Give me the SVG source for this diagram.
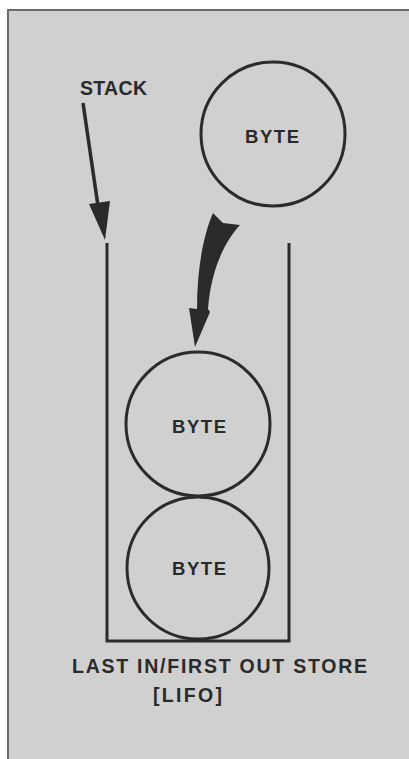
<svg xmlns="http://www.w3.org/2000/svg" width="409" height="759" viewBox="0 0 409 759">
  <style>
    .ink { stroke: #2b2b2b; fill: none; stroke-width: 3; }
    .solid { fill: #2b2b2b; stroke: none; }
    .lbl { font-family: "Liberation Sans", Arial, sans-serif; font-weight: bold; fill: #2a2a2a; }
  </style>
  <rect x="0" y="0" width="409" height="759" fill="#ffffff"/>
  <rect x="8" y="10" width="401" height="749" fill="#d0d0d0"/>
  <path d="M8,759 V10 H409" fill="none" stroke="#6a6a6a" stroke-width="2"/>

  <g id="stack">
    <path class="ink" d="M107,243 V641 H289 V243" stroke-linejoin="miter"/>
  </g>

  <g id="byte-top">
    <circle class="ink" cx="273" cy="134" r="72"/>
    <text class="lbl" x="245" y="143" font-size="18.5" textLength="54" lengthAdjust="spacing">BYTE</text>
  </g>

  <g id="byte-middle">
    <circle class="ink" cx="198" cy="424" r="72"/>
    <text class="lbl" x="172" y="433" font-size="18.5" textLength="54" lengthAdjust="spacing">BYTE</text>
  </g>

  <g id="byte-bottom">
    <circle class="ink" cx="198" cy="568" r="71"/>
    <text class="lbl" x="172" y="575" font-size="18.5" textLength="54" lengthAdjust="spacing">BYTE</text>
  </g>

  <g id="label-stack">
    <text class="lbl" x="80" y="95" font-size="19.5" textLength="67" lengthAdjust="spacing">STACK</text>
  </g>

  <g id="caption">
    <text class="lbl" x="72" y="673" font-size="19.5" textLength="295" lengthAdjust="spacing">LAST IN/FIRST OUT STORE</text>
    <text class="lbl" x="153" y="702" font-size="19.5" textLength="69" lengthAdjust="spacing">[LIFO]</text>
  </g>

  <g id="connectors">
    <line x1="83" y1="103" x2="98" y2="206" stroke="#2b2b2b" stroke-width="3.5"/>
    <polygon class="solid" points="89,204 110,201 105,240"/>
    <path class="solid" d="M213,213 L223,223 L240,225 C226,240 211,268 208,309 L210,312 L195,347 L189,308 L197,309 C197,270 203,236 213,213 Z"/>
  </g>
</svg>
